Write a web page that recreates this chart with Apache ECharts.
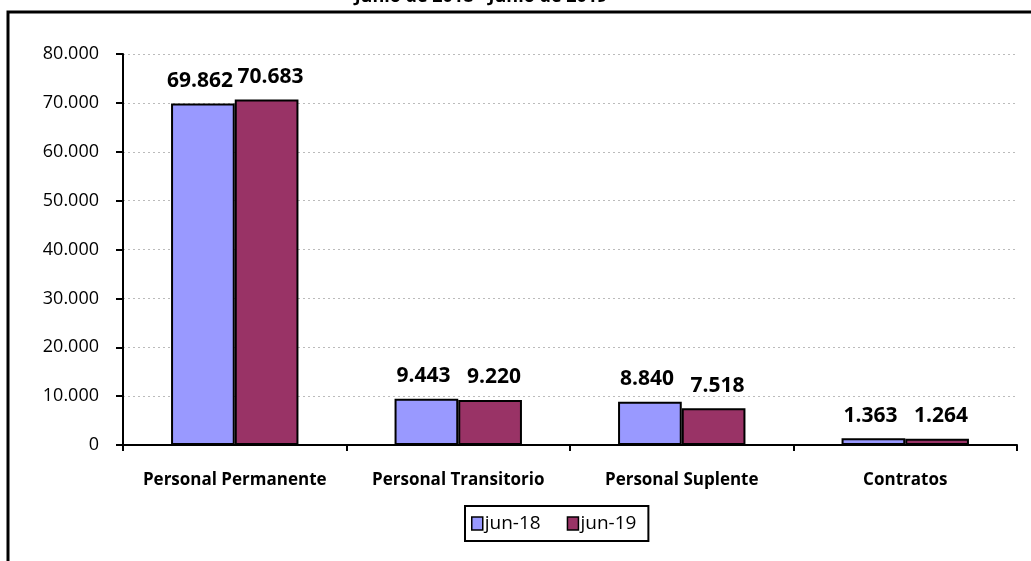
<!DOCTYPE html>
<html><head><meta charset="utf-8">
<script src="https://cdn.jsdelivr.net/npm/echarts@6/dist/echarts.min.js"></script>
<style>html,body{margin:0;padding:0;background:#fff}#c{width:1031px;height:561px}</style>
</head><body><div id="c"></div>
<script>
const categories = ['Personal Permanente', 'Personal Transitorio', 'Personal Suplente', 'Contratos'];
const seriesNames = ['jun-18', 'jun-19'];
const jun18 = [69862, 9443, 8840, 1363];
const jun19 = [70683, 9220, 7518, 1264];
const yTicks = [0, 10000, 20000, 30000, 40000, 50000, 60000, 70000, 80000];
const titleText = 'Junio de 2018 - Junio de 2019';

const fmt = v => v.toString().replace(/\B(?=(\d{3})+(?!\d))/g, '.');
const font = 'Open Sans';

const chart = echarts.init(document.getElementById('c'), null, {renderer: 'canvas'});
chart.setOption({
  animation: false,
  title: {text: titleText, left: 481, top: -12, textAlign: 'center', padding: 0,
    textStyle: {fontFamily: font, fontSize: 18, fontWeight: 'bold', color: '#000'}},
  graphic: [
    {type: 'rect', shape: {x: 8, y: 12, width: 1100, height: 600},
     style: {fill: 'none', stroke: '#000', lineWidth: 3}, z: 100}
  ],
  grid: {left: 123, right: 14, top: 54, bottom: 116, containLabel: false},
  legend: {
    data: seriesNames, bottom: 20, left: 465,
    itemWidth: 11, itemHeight: 13, itemGap: 26,
    padding: [8, 12, 8, 6],
    borderColor: '#000', borderWidth: 2,
    textStyle: {fontFamily: font, fontSize: 19, color: '#000', padding: [0, 0, 0, -3]},
    itemStyle: {borderColor: '#000', borderWidth: 1.5},
    icon: 'rect'
  },
  xAxis: {
    type: 'category', data: categories,
    axisLine: {lineStyle: {color: '#000', width: 2}},
    axisTick: {show: true, interval: 0, length: 6, lineStyle: {color: '#000', width: 2}},
    axisLabel: {interval: 0, fontFamily: font, fontSize: 17, fontWeight: 'bold', color: '#000', margin: 27}
  },
  yAxis: {
    type: 'value', min: 0, max: 80000, interval: 10000,
    axisLine: {show: true, lineStyle: {color: '#000', width: 2}},
    axisTick: {show: true, length: 7, lineStyle: {color: '#000', width: 2}},
    axisLabel: {fontFamily: font, fontSize: 18, color: '#000', margin: 24,
      formatter: v => yTicks.includes(v) ? fmt(v) : ''},
    splitLine: {show: true, lineStyle: {color: '#bbb', type: [2, 3], width: 1}}
  },
  series: [
    {name: seriesNames[0], type: 'bar', data: jun18, barGap: '0%', barCategoryGap: '43%',
     itemStyle: {color: '#9999FF', borderColor: '#000', borderWidth: 2},
     label: {show: true, position: 'top', distance: 12, offset: [-3, 0], formatter: p => fmt(p.value),
       fontFamily: font, fontSize: 21, fontWeight: 'bold', color: '#000'}},
    {name: seriesNames[1], type: 'bar', data: jun19,
     itemStyle: {color: '#993366', borderColor: '#000', borderWidth: 2},
     label: {show: true, position: 'top', distance: 12, offset: [4, 0], formatter: p => fmt(p.value),
       fontFamily: font, fontSize: 21, fontWeight: 'bold', color: '#000'}}
  ]
});
</script></body></html>
